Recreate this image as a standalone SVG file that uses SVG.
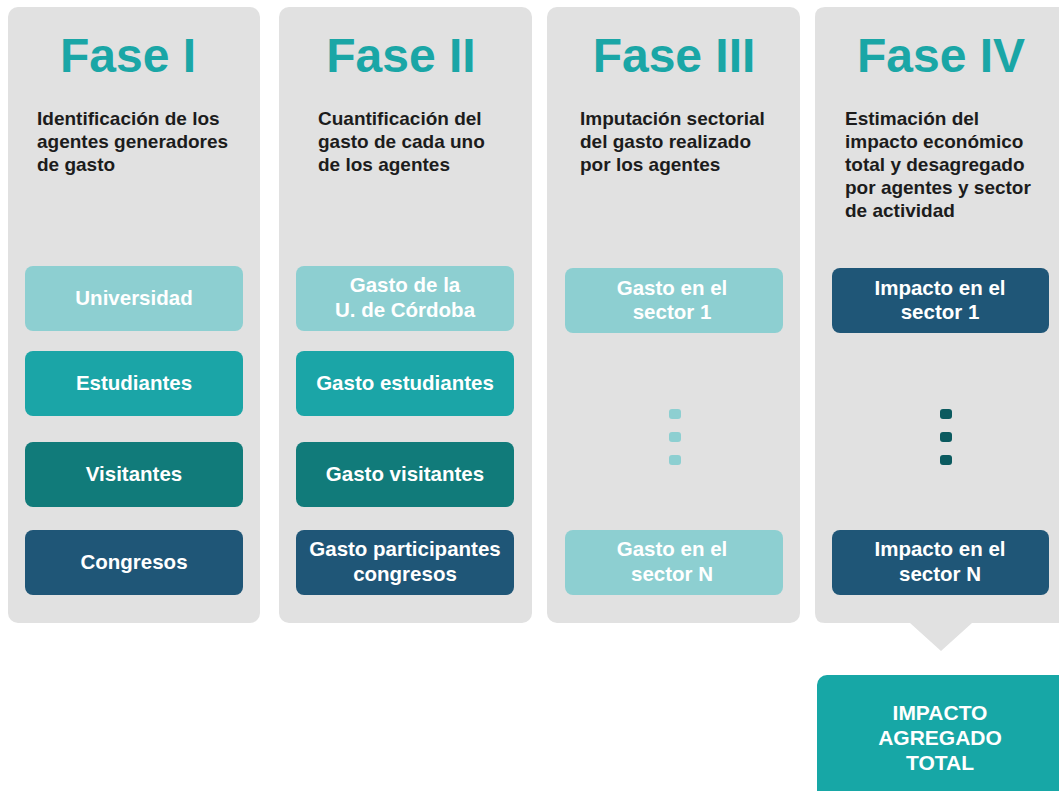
<svg xmlns="http://www.w3.org/2000/svg" width="1059" height="791" viewBox="0 0 1059 791">
<style>
.panel{fill:#e1e1e1}
.title{font-family:"Liberation Sans",Arial,sans-serif;font-weight:bold;font-size:48px;fill:#1aa6a6;text-anchor:middle}
.desc{font-family:"Liberation Sans",Arial,sans-serif;font-weight:bold;font-size:19px;fill:#1c1c1c}
.lbl{font-family:"Liberation Sans",Arial,sans-serif;font-weight:bold;font-size:20.5px;fill:#ffffff;text-anchor:middle}
.big{font-family:"Liberation Sans",Arial,sans-serif;font-weight:bold;font-size:21px;fill:#ffffff;text-anchor:middle}
.c1{fill:#8dcfd1}.c2{fill:#1ba5a7}.c3{fill:#117b7a}.c4{fill:#1f5677}
</style>
<rect width="1059" height="791" fill="#ffffff"/>
<g id="fase1">
<rect class="panel" x="8" y="7" width="252" height="616" rx="10"/>
<text class="title" x="128" y="72">Fase I</text>
<text class="desc"><tspan x="37" y="125">Identificación de los</tspan><tspan x="37" y="148">agentes generadores</tspan><tspan x="37" y="171">de gasto</tspan></text>
</g>
<g id="fase2">
<rect class="panel" x="279" y="7" width="253" height="616" rx="10"/>
<text class="title" x="401" y="72">Fase II</text>
<text class="desc"><tspan x="318" y="125">Cuantificación del</tspan><tspan x="318" y="148">gasto de cada uno</tspan><tspan x="318" y="171">de los agentes</tspan></text>
</g>
<g id="fase3">
<rect class="panel" x="547" y="7" width="253" height="616" rx="10"/>
<text class="title" x="674" y="72">Fase III</text>
<text class="desc"><tspan x="580" y="125">Imputación sectorial</tspan><tspan x="580" y="148">del gasto realizado</tspan><tspan x="580" y="171">por los agentes</tspan></text>
</g>
<g id="fase4">
<path class="panel" d="M825 7 H1059 V623 H972 L941 651 L910 623 H825 Q815 623 815 613 V17 Q815 7 825 7 Z"/>
<text class="title" x="941" y="72">Fase IV</text>
<text class="desc"><tspan x="845" y="125">Estimación del</tspan><tspan x="845" y="148">impacto económico</tspan><tspan x="845" y="171">total y desagregado</tspan><tspan x="845" y="194">por agentes y sector</tspan><tspan x="845" y="217">de actividad</tspan></text>
</g>
<g id="universidad"><rect class="c1" x="25" y="266" width="218" height="65" rx="8"/><text class="lbl" x="134" y="305">Universidad</text></g>
<g id="estudiantes"><rect class="c2" x="25" y="351" width="218" height="65" rx="8"/><text class="lbl" x="134" y="390">Estudiantes</text></g>
<g id="visitantes"><rect class="c3" x="25" y="442" width="218" height="65" rx="8"/><text class="lbl" x="134" y="481">Visitantes</text></g>
<g id="congresos"><rect class="c4" x="25" y="530" width="218" height="65" rx="8"/><text class="lbl" x="134" y="569">Congresos</text></g>
<g id="gasto-uco"><rect class="c1" x="296" y="266" width="218" height="65" rx="8"/><text class="lbl"><tspan x="405" y="292">Gasto de la</tspan><tspan x="405" y="317">U. de Córdoba</tspan></text></g>
<g id="gasto-estudiantes"><rect class="c2" x="296" y="351" width="218" height="65" rx="8"/><text class="lbl" x="405" y="390">Gasto estudiantes</text></g>
<g id="gasto-visitantes"><rect class="c3" x="296" y="442" width="218" height="65" rx="8"/><text class="lbl" x="405" y="481">Gasto visitantes</text></g>
<g id="gasto-congresos"><rect class="c4" x="296" y="530" width="218" height="65" rx="8"/><text class="lbl"><tspan x="405" y="556">Gasto participantes</tspan><tspan x="405" y="581">congresos</tspan></text></g>
<g id="gasto-sector1"><rect class="c1" x="565" y="268" width="218" height="65" rx="8"/><text class="lbl"><tspan x="672" y="295">Gasto en el</tspan><tspan x="672" y="319">sector 1</tspan></text></g>
<g id="gasto-dots"><rect class="c1" x="669" y="409" width="12" height="10" rx="3"/><rect class="c1" x="669" y="432" width="12" height="10" rx="3"/><rect class="c1" x="669" y="455" width="12" height="10" rx="3"/></g>
<g id="gasto-sectorN"><rect class="c1" x="565" y="530" width="218" height="65" rx="8"/><text class="lbl"><tspan x="672" y="556">Gasto en el</tspan><tspan x="672" y="581">sector N</tspan></text></g>
<g id="impacto-sector1"><rect class="c4" x="832" y="268" width="217" height="65" rx="8"/><text class="lbl"><tspan x="940" y="295">Impacto en el</tspan><tspan x="940" y="319">sector 1</tspan></text></g>
<g id="impacto-dots"><rect fill="#0b5a5f" x="940" y="409" width="12" height="10" rx="3"/><rect fill="#0b5a5f" x="940" y="432" width="12" height="10" rx="3"/><rect fill="#0b5a5f" x="940" y="455" width="12" height="10" rx="3"/></g>
<g id="impacto-sectorN"><rect class="c4" x="832" y="530" width="217" height="65" rx="8"/><text class="lbl"><tspan x="940" y="556">Impacto en el</tspan><tspan x="940" y="581">sector N</tspan></text></g>
<g id="impacto-total"><rect fill="#17a7a6" x="817" y="675" width="260" height="130" rx="10"/><text class="big"><tspan x="940" y="720">IMPACTO</tspan><tspan x="940" y="745">AGREGADO</tspan><tspan x="940" y="770">TOTAL</tspan></text></g>
<g id="connectors"></g>
</svg>
